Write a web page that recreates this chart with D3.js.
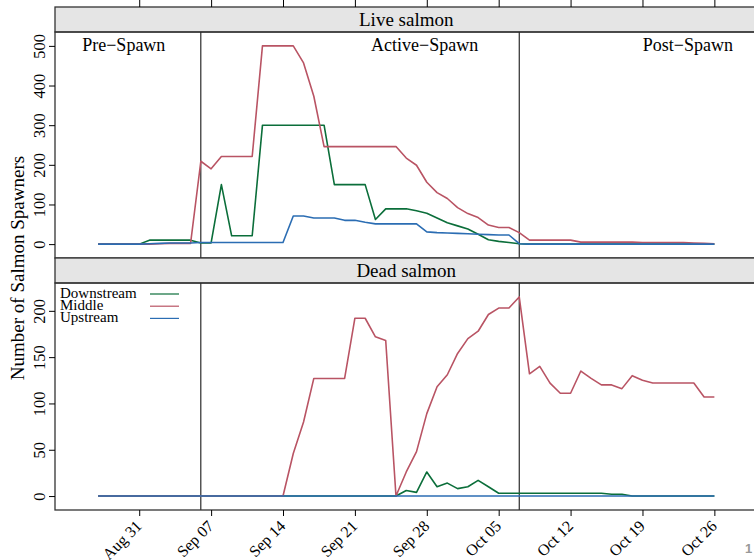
<!DOCTYPE html>
<html>
<head>
<meta charset="utf-8">
<script src="https://cdn.jsdelivr.net/npm/d3@7"></script>
<style>
  body { margin: 0; background: #fff; }
  svg { display: block; }
  svg text { font-family: "Liberation Serif", "Times New Roman", serif; }
</style>
</head>
<body>
<div id="chart"></div>
<script>
// daily counts, Aug 27 .. Oct 26
var startDate = new Date(Date.UTC(2014, 7, 27));
var endDate = new Date(Date.UTC(2014, 9, 26));

var liveDownstream = [
  0, 0, 0, 0, 0, 10, 10, 10, 10, 10,
  3, 3, 150, 21, 21, 21, 300, 300, 300, 300,
  300, 300, 300, 150, 150, 150, 150, 62, 89, 89,
  89, 84, 78, 66, 54, 46, 38, 25, 11, 7,
  4, 1, 0, 0, 0, 0, 0, 0, 0, 0,
  0, 0, 0, 0, 0, 0, 0, 0, 0, 0, 0];
var liveMiddle = [
  0, 0, 0, 0, 0, 0, 1, 2, 2, 2,
  209, 190, 221, 221, 221, 221, 500, 500, 500, 500,
  457, 373, 246, 246, 246, 246, 246, 246, 246, 246,
  217, 199, 156, 130, 115, 92, 77, 67, 48, 42,
  42, 29, 10, 10, 10, 10, 10, 5, 5, 5,
  5, 5, 5, 4, 4, 4, 4, 4, 3, 2, 1];
var liveUpstream = [
  0, 0, 0, 0, 0, 1, 2, 3, 3, 3,
  4, 4, 4, 4, 4, 4, 4, 4, 4, 71,
  71, 66, 66, 66, 60, 60, 55, 51, 51, 51,
  51, 51, 31, 29, 28, 27, 26, 25, 24, 23,
  23, 1, 0, 0, 0, 0, 0, 0, 0, 0,
  0, 0, 0, 0, 0, 0, 0, 0, 0, 0, 0];

var deadDownstream = [
  0, 0, 0, 0, 0, 0, 0, 0, 0, 0,
  0, 0, 0, 0, 0, 0, 0, 0, 0, 0,
  0, 0, 0, 0, 0, 0, 0, 0, 0, 0,
  6, 4, 26, 10, 14, 8, 10, 17, 10, 3,
  3, 3, 3, 3, 3, 3, 3, 3, 3, 3,
  2, 2, 0, 0, 0, 0, 0, 0, 0, 0, 0];
var deadMiddle = [
  0, 0, 0, 0, 0, 0, 0, 0, 0, 0,
  0, 0, 0, 0, 0, 0, 0, 0, 0, 46,
  80, 127, 127, 127, 127, 192, 192, 172, 168, 0,
  26, 48, 89, 118, 131, 154, 170, 178, 196, 203,
  203, 215, 132, 140, 122, 111, 111, 135, 127, 120,
  120, 116, 130, 125, 122, 122, 122, 122, 122, 107, 107];
var deadUpstream = [
  0, 0, 0, 0, 0, 0, 0, 0, 0, 0,
  0, 0, 0, 0, 0, 0, 0, 0, 0, 0,
  0, 0, 0, 0, 0, 0, 0, 0, 0, 0,
  0, 0, 0, 0, 0, 0, 0, 0, 0, 0,
  0, 0, 0, 0, 0, 0, 0, 0, 0, 0,
  0, 0, 0, 0, 0, 0, 0, 0, 0, 0, 0];

var seriesNames = ["Downstream", "Middle", "Upstream"];
var panelTitles = ["Live salmon", "Dead salmon"];
var liveTicks = [0, 100, 200, 300, 400, 500];
var deadTicks = [0, 50, 100, 150, 200];
var phaseBreaks = [new Date(Date.UTC(2014, 8, 6)), new Date(Date.UTC(2014, 9, 7))];
var phaseLabels = ["Pre\u2212Spawn", "Active\u2212Spawn", "Post\u2212Spawn"];
var phaseLabelDates = [new Date(Date.UTC(2014, 7, 29, 12)), new Date(Date.UTC(2014, 8, 27, 19)), new Date(Date.UTC(2014, 9, 23, 10))];
var xTickDates = [
  new Date(Date.UTC(2014, 7, 31)), new Date(Date.UTC(2014, 8, 7)), new Date(Date.UTC(2014, 8, 14)),
  new Date(Date.UTC(2014, 8, 21)), new Date(Date.UTC(2014, 8, 28)), new Date(Date.UTC(2014, 9, 5)),
  new Date(Date.UTC(2014, 9, 12)), new Date(Date.UTC(2014, 9, 19)), new Date(Date.UTC(2014, 9, 26))];

var colors = ["#0b6e3a", "#b95464", "#2b6db3"];

var width = 754;
var height = 560;
var left = 55, right = 757.5;
var serif = '"Liberation Serif", "Times New Roman", serif';

var dates = d3.utcDay.range(startDate, d3.utcDay.offset(endDate, 1));

var pad = 0.07 * (endDate - startDate);
var x = d3.scaleUtc()
    .domain([new Date(+startDate - pad), new Date(+endDate + pad)])
    .range([left, right]);

var panels = [
  { title: panelTitles[0], stripTop: 7, top: 32, bottom: 258, ticks: liveTicks,
    series: [liveDownstream, liveMiddle, liveUpstream] },
  { title: panelTitles[1], stripTop: 258, top: 283, bottom: 510, ticks: deadTicks,
    series: [deadDownstream, deadMiddle, deadUpstream] }
];

var svg = d3.select("#chart")
    .append("svg")
    .attr("width", width)
    .attr("height", height);

panels.forEach(function(p, pi) {
    var maxV = d3.max(p.series, s => d3.max(s));
    var y = d3.scaleLinear()
        .domain([-0.07 * maxV, maxV * 1.07])
        .range([p.bottom, p.top]);

    // strip
    svg.append("rect")
        .attr("x", left).attr("y", p.stripTop)
        .attr("width", right - left).attr("height", p.top - p.stripTop)
        .attr("fill", "#e5e5e5")
        .attr("stroke", "#333").attr("stroke-width", 1.3);
    svg.append("text")
        .attr("x", (left + right) / 2)
        .attr("y", p.top - 6)
        .attr("text-anchor", "middle")
        .style("font-size", "19px")
        .attr("fill", "#000")
        .text(p.title);

    var clipId = "clip" + pi;
    svg.append("clipPath").attr("id", clipId)
        .append("rect")
        .attr("x", left).attr("y", p.top)
        .attr("width", right - left).attr("height", p.bottom - p.top);

    var g = svg.append("g").attr("clip-path", "url(#" + clipId + ")");

    // phase dividers
    g.selectAll("line.phase")
        .data(phaseBreaks)
        .enter().append("line")
        .attr("x1", d => x(d)).attr("x2", d => x(d))
        .attr("y1", p.top).attr("y2", p.bottom)
        .attr("stroke", "#000").attr("stroke-width", 1);

    var line = d3.line()
        .x((d, i) => x(dates[i]))
        .y(d => y(d));

    g.selectAll("path.series")
        .data(p.series)
        .enter().append("path")
        .attr("d", line)
        .attr("fill", "none")
        .attr("stroke", (d, i) => colors[i])
        .attr("stroke-width", 1.6)
        .attr("stroke-linejoin", "round");

    // panel frame
    svg.append("rect")
        .attr("x", left).attr("y", p.top)
        .attr("width", right - left).attr("height", p.bottom - p.top)
        .attr("fill", "none")
        .attr("stroke", "#333").attr("stroke-width", 1.3);

    // y axis
    var yAxis = svg.append("g")
        .attr("transform", `translate(${left}, 0)`)
        .call(d3.axisLeft(y).tickValues(p.ticks).tickSize(6).tickSizeOuter(0));
    yAxis.select(".domain").remove();
    yAxis.selectAll(".tick line").attr("stroke", "#000");
    yAxis.selectAll(".tick text")
        .attr("x", null).attr("dy", null)
        .attr("transform", "translate(-10, 0) rotate(-90)")
        .attr("text-anchor", "middle")
        .style("font-family", serif)
        .style("font-size", "16.5px")
        .attr("fill", "#000");
});

// phase labels in top panel
svg.append("g").selectAll("text")
    .data(phaseLabels)
    .enter().append("text")
    .attr("x", (d, i) => x(phaseLabelDates[i]))
    .attr("y", 51)
    .attr("text-anchor", "middle")
    .style("font-size", "18px")
    .text(d => d);

// top ticks
svg.append("g")
    .attr("transform", `translate(0, ${panels[0].stripTop})`)
    .call(d3.axisTop(x).tickValues(xTickDates).tickSize(7).tickFormat(""))
    .call(g => g.select(".domain").remove())
    .call(g => g.selectAll(".tick line").attr("stroke", "#000"));

// bottom axis
var xAxis = svg.append("g")
    .attr("transform", `translate(0, ${panels[1].bottom})`)
    .call(d3.axisBottom(x).tickValues(xTickDates).tickSize(6).tickFormat(d3.utcFormat("%b %d")));
xAxis.select(".domain").remove();
xAxis.selectAll(".tick line").attr("stroke", "#000");
xAxis.selectAll(".tick text")
    .attr("y", null).attr("dy", null)
    .attr("transform", "translate(3, 17) rotate(-45)")
    .attr("text-anchor", "end")
    .style("font-family", serif)
    .style("font-size", "16px")
    .attr("fill", "#000");

// y label
svg.append("text")
    .attr("transform", "translate(24, 268) rotate(-90)")
    .attr("text-anchor", "middle")
    .style("font-size", "19px")
    .text("Number of Salmon Spawners");

// legend
var legend = svg.append("g")
    .selectAll("g")
    .data(seriesNames)
    .enter().append("g")
    .attr("transform", (d, i) => `translate(60, ${298 + i * 12.2})`);
legend.append("text")
    .style("font-size", "15px")
    .text(d => d);
legend.append("line")
    .attr("x1", 90).attr("x2", 119)
    .attr("y1", -4).attr("y2", -4)
    .attr("stroke", (d, i) => colors[i])
    .attr("stroke-width", 1.2);

// stray page number in corner
svg.append("text")
    .attr("x", 745).attr("y", 553)
    .style("font-family", '"Liberation Sans", sans-serif')
    .style("font-weight", "bold")
    .style("font-size", "13px")
    .attr("fill", "#999")
    .text("1");
</script>
</body>
</html>
